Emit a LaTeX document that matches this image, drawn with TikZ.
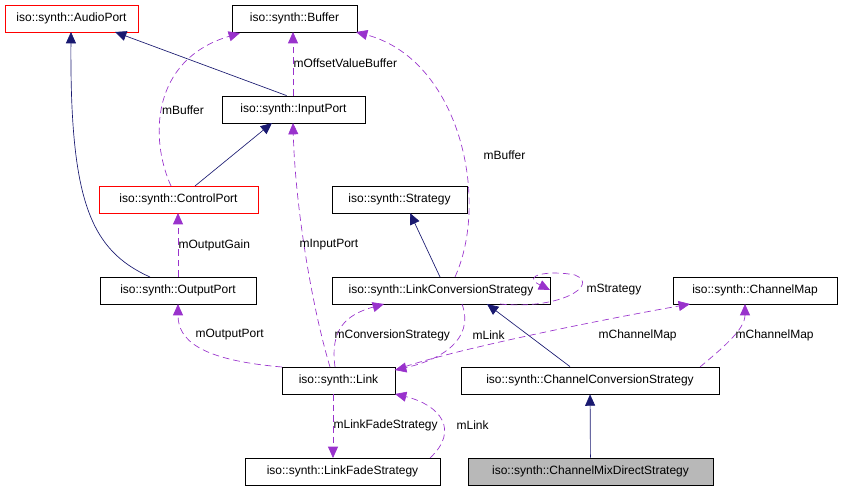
\documentclass[tikz,border=0pt]{standalone}
\usepackage{fontspec}
\setmainfont{Liberation Sans}
\usetikzlibrary{arrows.meta}
\definecolor{navy}{RGB}{25,25,112}
\definecolor{usecol}{RGB}{153,50,204}
\tikzset{
  cls/.style={draw, line width=0.6pt, minimum height=20.25pt, inner xsep=5pt, font=\fontsize{9}{10}\selectfont},
  red cls/.style={cls, draw=red},
  inherit/.style={navy, line width=0.5pt, -{Triangle[length=8.5pt,width=7.5pt]}},
  uses/.style={usecol, line width=0.5pt, dash pattern=on 5pt off 3pt, -{Triangle[length=8.5pt,width=7.5pt]}},
  lbl/.style={font=\fontsize{9}{10}\selectfont, inner sep=1pt}
}
\begin{document}
\begin{tikzpicture}[x=0.75pt, y=-0.75pt]
\useasboundingbox (0,0) rectangle (845,491);

\node[red cls, minimum width=99.75pt] (audio) at (71.5,18.5) {iso::synth::AudioPort};
\node[cls, minimum width=93.75pt] (buffer) at (294.5,18.5) {iso::synth::Buffer};
\node[cls, minimum width=107.25pt] (input) at (293.5,109.5) {iso::synth::InputPort};
\node[red cls, minimum width=119.25pt] (control) at (178.5,199.5) {iso::synth::ControlPort};
\node[cls, minimum width=101.25pt] (strategy) at (399.5,199.5) {iso::synth::Strategy};
\node[cls, minimum width=117pt] (output) at (178,290.5) {iso::synth::OutputPort};
\node[cls, minimum width=163.5pt] (linkconv) at (441,290.5) {iso::synth::LinkConversionStrategy};
\node[cls, minimum width=123pt] (chmap) at (755,290.5) {iso::synth::ChannelMap};
\node[cls, minimum width=84.75pt] (link) at (338.5,380.5) {iso::synth::Link};
\node[cls, minimum width=193.5pt] (chconv) at (590,380.5) {iso::synth::ChannelConversionStrategy};
\node[cls, minimum width=146.25pt] (fade) at (342.5,471.5) {iso::synth::LinkFadeStrategy};
\node[cls, fill=black!28, minimum width=183.75pt] (mix) at (590.5,471.5) {iso::synth::ChannelMixDirectStrategy};

% inheritance
\draw[inherit] (input.north west) ++(65,0) coordinate (a1) -- (115,32) coordinate (a2);
\draw[inherit] (150,277) coordinate (b1) .. controls (90,250) and (70,200) .. (71,32);
\draw[inherit] (195,186) coordinate (c1) -- (272,123);
\draw[inherit] (440,277) -- (410,213);
\draw[inherit] (chconv.north) ++(-20,0) coordinate (d1) -- (487,304);
\draw[inherit] (mix) -- (chconv);

% usage
\draw[uses] (171,186) .. controls (150,140) and (150,60) .. (240,33);
\draw[uses] (293,96) -- (293,32);
\node[lbl, anchor=west] at (292,63) {mOffsetValueBuffer};
\node[lbl] at (183,110) {mBuffer};
\draw[uses] (455,277) .. controls (490,200) and (460,60) .. (356,32);
\node[lbl, anchor=west] at (482,155) {mBuffer};
\draw[uses] (178,277) -- (178,213);
\node[lbl, anchor=west] at (177,245) {mOutputGain};
\draw[uses] (330,367) .. controls (310,300) and (295,200) .. (293,123);
\node[lbl, anchor=west] at (298,245) {mInputPort};
\draw[uses] (282,367) .. controls (200,360) and (178,340) .. (178,304);
\node[lbl, anchor=west] at (194,335) {mOutputPort};
\draw[uses] (335,367) .. controls (330,330) and (345,315) .. (384,304);
\node[lbl, anchor=west] at (333,335) {mConversionStrategy};
\draw[uses] (462,304) .. controls (475,340) and (440,360) .. (395,370);
\node[lbl, anchor=west] at (471,335) {mLink};
\draw[uses] (395,370) .. controls (450,350) and (600,320) .. (690,304);
\node[lbl, anchor=west] at (597,335) {mChannelMap};
\draw[uses] (700,367) .. controls (720,350) and (745,330) .. (745,304);
\node[lbl, anchor=west] at (734,335) {mChannelMap};
\draw[uses] (500,304) .. controls (560,310) and (600,285) .. (575,275) .. controls (550,270) and (520,275) .. (550,290);
\node[lbl, anchor=west] at (585,290) {mStrategy};
\draw[uses] (333,394) -- (333,458);
\node[lbl, anchor=west] at (332,425) {mLinkFadeStrategy};
\draw[uses] (430,458) .. controls (460,430) and (440,405) .. (395,394);
\node[lbl, anchor=west] at (455,425) {mLink};
\end{tikzpicture}
\end{document}
